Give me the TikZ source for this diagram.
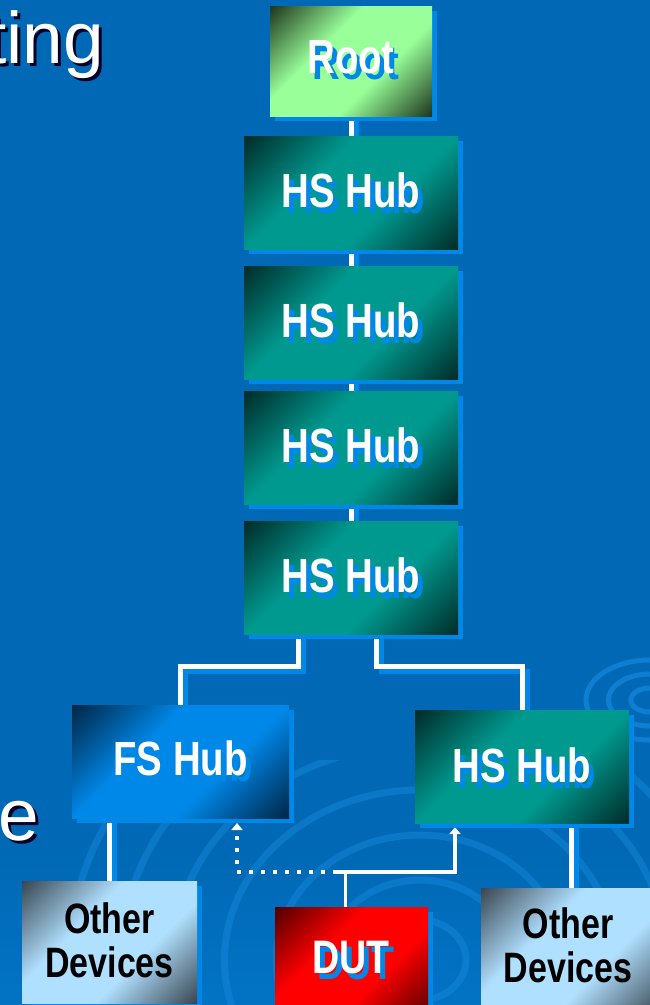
\documentclass[tikz,border=0pt]{standalone}
\usepackage{fontspec}
\setmainfont{Liberation Sans}
\newfontfamily\nb{Liberation Sans}[FakeStretch=0.8]
\usetikzlibrary{arrows.meta,calc}
\definecolor{bgtop}{HTML}{0068B4}
\definecolor{bgbot}{HTML}{0682DA}
\definecolor{shblue}{HTML}{0088E8}
\definecolor{swirl}{HTML}{1A8EE4}
\definecolor{rootlt}{HTML}{99FF99}
\definecolor{rootdk}{HTML}{0C180C}
\definecolor{hslt}{HTML}{00998F}
\definecolor{hsdk}{HTML}{001C1A}
\definecolor{fslt}{HTML}{0088E8}
\definecolor{fsdk}{HTML}{001830}
\definecolor{odlt}{HTML}{B0E0FF}
\definecolor{oddk}{HTML}{283038}
\definecolor{dutlt}{HTML}{FF0000}
\definecolor{dutdk}{HTML}{380000}
\pgfdeclarehorizontalshading{rootsh}{100bp}{color(0bp)=(rootdk); color(11bp)=(rootdk); color(39bp)=(rootlt); color(61bp)=(rootlt); color(89bp)=(rootdk); color(100bp)=(rootdk)}
\pgfdeclarehorizontalshading{hssh}{100bp}{color(0bp)=(hsdk); color(11bp)=(hsdk); color(39bp)=(hslt); color(61bp)=(hslt); color(89bp)=(hsdk); color(100bp)=(hsdk)}
\pgfdeclarehorizontalshading{fssh}{100bp}{color(0bp)=(fsdk); color(11bp)=(fsdk); color(39bp)=(fslt); color(61bp)=(fslt); color(89bp)=(fsdk); color(100bp)=(fsdk)}
\pgfdeclarehorizontalshading{odsh}{100bp}{color(0bp)=(oddk); color(11bp)=(oddk); color(39bp)=(odlt); color(61bp)=(odlt); color(89bp)=(oddk); color(100bp)=(oddk)}
\pgfdeclarehorizontalshading{dutsh}{100bp}{color(0bp)=(dutdk); color(11bp)=(dutdk); color(39bp)=(dutlt); color(61bp)=(dutlt); color(89bp)=(dutdk); color(100bp)=(dutdk)}
\pgfdeclareverticalshading{bgsh}{100bp}{color(0bp)=(bgbot); color(14bp)=(bgbot); color(33bp)=(bgtop); color(100bp)=(bgtop)}
\pgfdeclarelayer{back}
\pgfdeclarelayer{wires}
\pgfsetlayers{back,wires,main}
\newcommand\shtxt[4]{\makebox[0pt][l]{\hspace{#3}\raisebox{-#4}{\textcolor{#1}{#2}}}#2}
\tikzset{
  box/.style={rectangle, inner sep=0pt, outer sep=0pt, shade, shading angle=-45,
    preaction={fill=shblue, transform canvas={shift={(5pt,-5pt)}}}},
  hubtxt/.style={anchor=base, inner sep=0pt, text=white, font=\nb\bfseries\fontsize{48}{48}\selectfont},
  devtxt/.style={anchor=base, inner sep=0pt, text=black, align=center, font=\nb\bfseries\fontsize{42.5}{44}\selectfont},
  titletxt/.style={anchor=base east, inner sep=0pt, text=white, font=\fontsize{73}{73}\selectfont},
  wire/.style={draw=white, line width=5pt, line join=miter,
    preaction={draw=shblue, line width=5pt, transform canvas={shift={(5pt,-5pt)}}}},
  link/.style={draw=white, line width=4pt},
  dotlink/.style={draw=white, line width=4pt, dash pattern=on 4pt off 8pt},
  tip/.style={-{Triangle[width=11pt,length=7pt]}}
}
\begin{document}
\begin{tikzpicture}[x=1pt,y=-1pt]
\useasboundingbox (0,0) rectangle (650,1005);
% nodes
\node[box, shading=rootsh, minimum width=162pt, minimum height=110pt, anchor=north west] (root) at (270,6) {};
\node[box, shading=hssh, minimum width=214pt, minimum height=113pt, anchor=north west] (hs1) at (244,136) {};
\node[box, shading=hssh, minimum width=214pt, minimum height=113pt, anchor=north west] (hs2) at (244,266) {};
\node[box, shading=hssh, minimum width=214pt, minimum height=113pt, anchor=north west] (hs3) at (244,391) {};
\node[box, shading=hssh, minimum width=214pt, minimum height=113pt, anchor=north west] (hs4) at (244,521) {};
\node[box, shading=fssh, minimum width=217pt, minimum height=113pt, anchor=north west] (fs) at (72,705) {};
\node[box, shading=hssh, minimum width=214pt, minimum height=113pt, anchor=north west] (hsr) at (415,710) {};
\node[box, shading=odsh, minimum width=175pt, minimum height=122pt, anchor=north west] (odl) at (22,881) {};
\node[box, shading=dutsh, minimum width=153pt, minimum height=112pt, anchor=north west] (dut) at (275,907) {};
\node[box, shading=odsh, minimum width=180pt, minimum height=125pt, anchor=north west] (odr) at (481,888) {};
% texts
\node[hubtxt] (troot) at (351,73) {\shtxt{shblue}{Root}{5pt}{6pt}};
\node[hubtxt] (ths1) at (351,207) {\shtxt{shblue}{HS Hub}{5pt}{6pt}};
\node[hubtxt] (ths2) at (351,337) {\shtxt{shblue}{HS Hub}{5pt}{6pt}};
\node[hubtxt] (ths3) at (351,462) {\shtxt{shblue}{HS Hub}{5pt}{6pt}};
\node[hubtxt] (ths4) at (351,592) {\shtxt{shblue}{HS Hub}{5pt}{6pt}};
\node[hubtxt] (tfs) at (180.5,775) {\shtxt{shblue}{FS Hub}{5pt}{6pt}};
\node[hubtxt] (thsr) at (522,782) {\shtxt{shblue}{HS Hub}{5pt}{6pt}};
\node[hubtxt, font=\nb\bfseries\fontsize{47}{47}\selectfont] (tdut) at (351,973) {\shtxt{shblue}{DUT}{5pt}{6pt}};
\node[devtxt] (todl) at (109.5,977) {Other\\Devices};
\node[devtxt] (todr) at (568,982) {Other\\Devices};
\node[titletxt] (ting) at (104,63) {\shtxt{black!85!blue}{ting}{3pt}{3pt}};
\node[titletxt] (te) at (39,840) {\shtxt{black!85!blue}{e}{3pt}{3pt}};
% background
\begin{pgfonlayer}{back}
\shade[shading=bgsh] (0,0) rectangle (650,1005);
\begin{scope}
\clip (0,760) rectangle (650,1005);
\foreach \r in {40,80,125,170,215,260,305}
  \draw[swirl, line width=7pt, opacity=0.4] (420,960) ellipse ({\r*1.15} and \r);
\end{scope}
\begin{scope}
\clip (560,640) rectangle (650,760);
\foreach \r in {12,26,40}
  \draw[swirl, line width=5pt, opacity=0.6] (650,700) ellipse ({\r*1.6} and \r);
\end{scope}
\end{pgfonlayer}
% connectors
\begin{pgfonlayer}{wires}
\draw[wire] (root.south) -- (hs1.north);
\draw[wire] (hs1.south) -- (hs2.north);
\draw[wire] (hs2.south) -- (hs3.north);
\draw[wire] (hs3.south) -- (hs4.north);
\draw[wire] ([xshift=-53pt]hs4.south) -- ++(0,32) -| (fs.north);
\draw[wire] ([xshift=25pt]hs4.south) -- ++(0,32) -| (hsr.north);
\draw[wire] (fs.south -| odl.north) -- (odl.north);
\draw[wire] (hsr.south -| odr.north) -- (odr.north);
\coordinate (j) at (337,872);
\coordinate (dj) at (345,872);
\draw[link, tip] (j) -| ([xshift=-67pt,yshift=-4pt]hsr.south);
\draw[dotlink, tip] (j) -| ([xshift=56.5pt,yshift=-5pt]fs.south);
\draw[white, line width=3pt] (dut.north -| dj) -- (dj);
\end{pgfonlayer}
\end{tikzpicture}
\end{document}
